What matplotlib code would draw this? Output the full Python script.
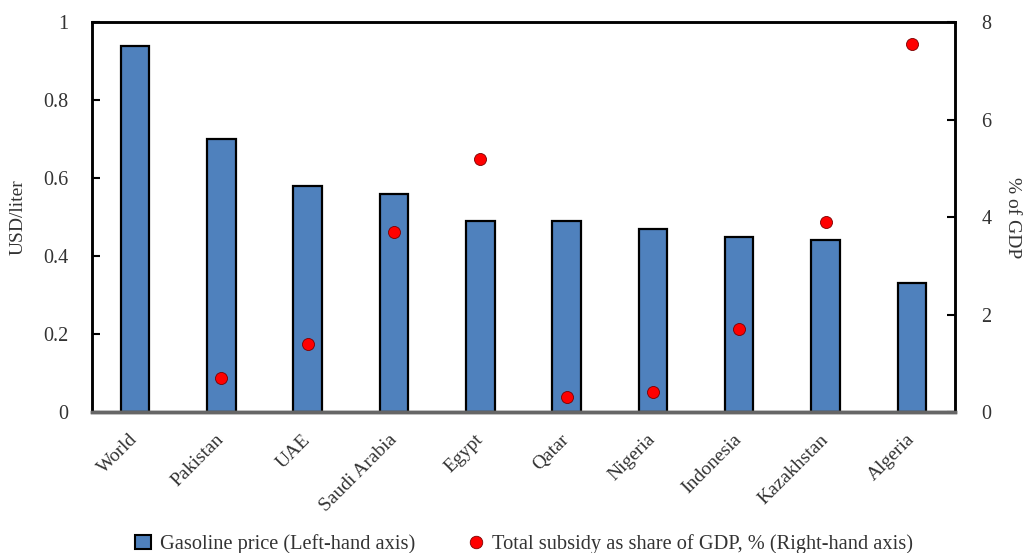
import matplotlib
matplotlib.use("Agg")
import matplotlib.pyplot as plt
from matplotlib.lines import Line2D
from matplotlib.patches import Patch

# data
countries = ['World', 'Pakistan', 'UAE', 'Saudi Arabia', 'Egypt', 'Qatar',
             'Nigeria', 'Indonesia', 'Kazakhstan', 'Algeria']
gasoline_price = [0.94, 0.70, 0.58, 0.56, 0.49, 0.49, 0.47, 0.45, 0.44, 0.33]
subsidy_gdp = [None, 0.7, 1.4, 3.7, 5.2, 0.3, 0.4, 1.7, 3.9, 7.55]

left_ticks = [0, 0.2, 0.4, 0.6, 0.8, 1]
left_labels = ['0', '0.2', '0.4', '0.6', '0.8', '1']
right_ticks = [0, 2, 4, 6, 8]

TXT = '#333333'
plt.rcParams['font.family'] = ['Liberation Serif', 'DejaVu Serif']

fig = plt.figure(figsize=(10.24, 5.53), dpi=100)
ax = fig.add_axes([0.0898, 0.255, 0.8428, 0.705])
ax2 = ax.twinx()

x = list(range(len(countries)))
ax.bar(x, gasoline_price, width=0.33, color='#4F81BD', edgecolor='black',
       linewidth=1.6, zorder=2)

px = [i for i, v in zip(x, subsidy_gdp) if v is not None]
py = [v for v in subsidy_gdp if v is not None]
ax2.scatter(px, py, s=75, color='#FF0000', edgecolor='#7a0000', linewidth=0.6, zorder=3)

ax.set_xlim(-0.5, 9.5)
ax.set_ylim(0, 1)
ax2.set_ylim(0, 8)

ax.set_yticks(left_ticks)
ax.set_yticklabels(left_labels)
ax2.set_yticks(right_ticks)

ax.set_xticks(x)
ax.set_xticklabels(countries, rotation=45, ha='right', va='center',
                   rotation_mode='anchor', fontsize=14, color=TXT)
ax.tick_params(axis='x', length=0, pad=18)
ax.tick_params(axis='y', direction='in', length=6, width=1.5, labelsize=14.5,
               labelcolor=TXT, pad=17)
ax2.tick_params(axis='y', direction='in', length=6, width=1.5, labelsize=14.5,
                labelcolor=TXT, pad=19)

for a in (ax, ax2):
    for s in a.spines.values():
        s.set_linewidth(1.8)
    a.spines['bottom'].set_color('#666666')
    a.spines['bottom'].set_linewidth(2.5)

fig.text(18 / 1024, 0.607, 'USD/liter', rotation=90, ha='center', va='center',
         fontsize=14, color=TXT)
fig.text(1013 / 1024, 0.607, '% of GDP', rotation=270, ha='center', va='center',
         fontsize=14, color=TXT)

handles = [
    Patch(facecolor='#4F81BD', edgecolor='black', linewidth=1.5,
          label='Gasoline price (Left-hand axis)'),
    Line2D([], [], marker='o', linestyle='none', markersize=9,
           markerfacecolor='#FF0000', markeredgecolor='#7a0000', markeredgewidth=0.6,
           label='Total subsidy as share of GDP, % (Right-hand axis)'),
]
fig.legend(handles=handles, loc='lower center', bbox_to_anchor=(0.512, -0.035),
           ncol=2, frameon=False, fontsize=14.7, columnspacing=2.6,
           handlelength=0.8, handletextpad=0.4, labelcolor=TXT)

fig.savefig('out.png', dpi=100)
